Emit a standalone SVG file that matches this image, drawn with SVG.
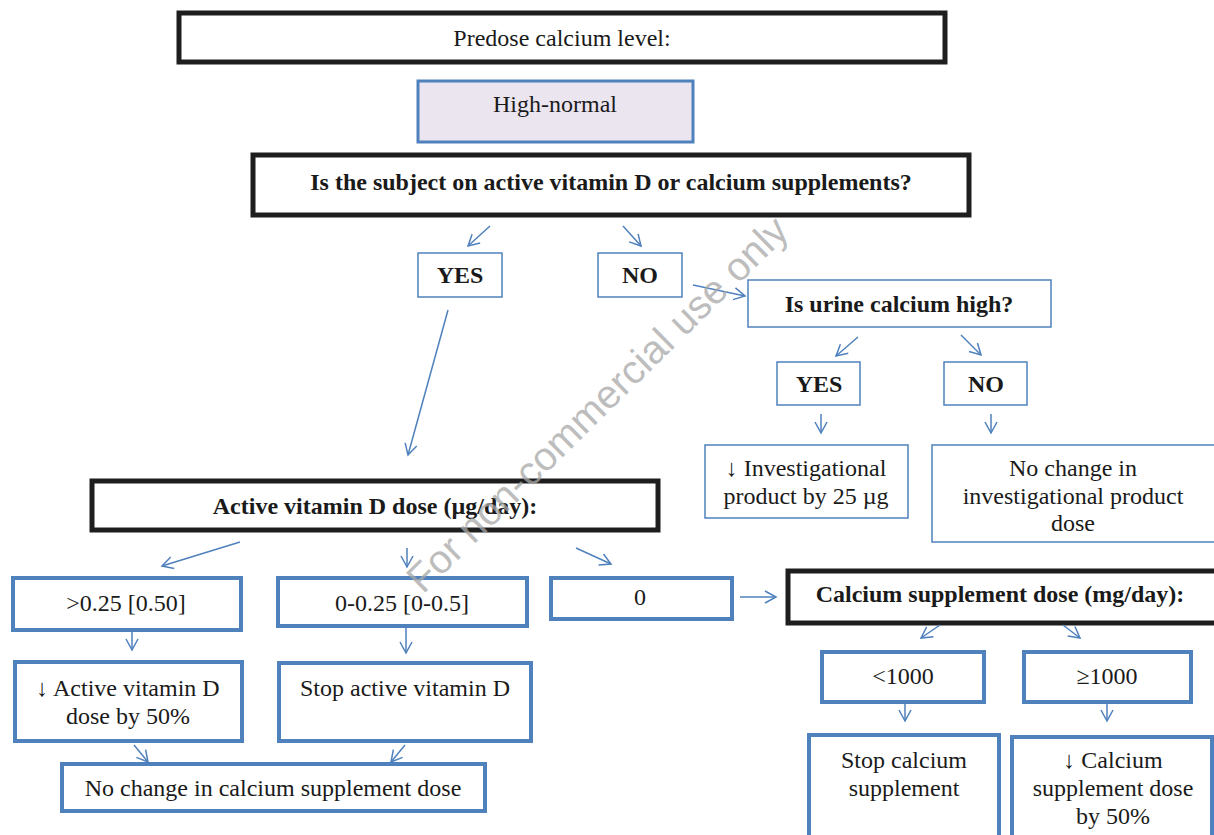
<svg xmlns="http://www.w3.org/2000/svg" width="1214" height="835" viewBox="0 0 1214 835">
<style>
.blk{fill:#fff;stroke:#1e1e1e;stroke-width:5}
.thin{fill:#fff;stroke:#4f81bd;stroke-width:1.5}
.thick{fill:#fff;stroke:#4f81bd;stroke-width:4}
.t{font-family:"Liberation Serif","Times New Roman",serif;font-size:24px;fill:#1a1a1a;text-anchor:middle}
.b{font-weight:bold}
.c line{stroke:#4f81bd;stroke-width:1.5;marker-end:url(#ah)}
.wm{font-family:"Liberation Sans",Arial,sans-serif;font-size:40px;fill:#a8a8a8;fill-opacity:0.75;text-anchor:middle}
</style>
<defs>
<marker id="ah" markerUnits="userSpaceOnUse" markerWidth="16" markerHeight="16" refX="12" refY="7" orient="auto">
<path d="M1,1 L12,7 L1,13" fill="none" stroke="#4f81bd" stroke-width="1.5"/>
</marker>
</defs>
<rect width="1214" height="835" fill="#fff"/>

<g id="n-predose"><rect class="blk" x="179" y="13" width="766" height="49"/><text class="t" x="562" y="46">Predose calcium level:</text></g>
<g id="n-highnormal"><rect x="418" y="81" width="275" height="61" fill="#ebe5f0" stroke="#4f81bd" stroke-width="3"/><text class="t" x="555" y="112">High-normal</text></g>
<g id="n-subject"><rect class="blk" x="253" y="155" width="716" height="60"/><text class="t b" x="611" y="190">Is the subject on active vitamin D or calcium supplements?</text></g>
<g id="n-yes1"><rect class="thin" x="418" y="253" width="84" height="44"/><text class="t b" x="460" y="283">YES</text></g>
<g id="n-no1"><rect class="thin" x="598" y="253" width="84" height="44"/><text class="t b" x="640" y="283">NO</text></g>
<g id="n-urine"><rect class="thin" x="748" y="280" width="303" height="47"/><text class="t b" x="899" y="312">Is urine calcium high?</text></g>
<g id="n-yes2"><rect class="thin" x="777" y="362" width="83" height="43"/><text class="t b" x="819" y="392">YES</text></g>
<g id="n-no2"><rect class="thin" x="944" y="362" width="83" height="43"/><text class="t b" x="986" y="392">NO</text></g>
<g id="n-invest"><rect class="thin" x="705" y="445" width="203" height="73"/><text class="t" x="806" y="476">↓ Investigational</text><text class="t" x="806" y="504">product by 25 µg</text></g>
<g id="n-nochange-ip"><rect class="thin" x="932" y="445" width="290" height="97"/><text class="t" x="1073" y="476">No change in</text><text class="t" x="1073" y="504">investigational product</text><text class="t" x="1073" y="531">dose</text></g>
<g id="n-avd"><rect class="blk" x="92" y="481" width="566" height="49"/><text class="t b" x="375" y="514">Active vitamin D dose (µg/day):</text></g>
<g id="n-gt025"><rect class="thick" x="13" y="578" width="228" height="52"/><text class="t" x="126" y="611">&gt;0.25 [0.50]</text></g>
<g id="n-0to025"><rect class="thick" x="278" y="578" width="249" height="48"/><text class="t" x="402" y="611">0-0.25 [0-0.5]</text></g>
<g id="n-zero"><rect class="thick" x="551" y="578" width="181" height="41"/><text class="t" x="640" y="605">0</text></g>
<g id="n-csd"><rect class="blk" x="788" y="571" width="430" height="52"/><text class="t b" x="1000" y="602">Calcium supplement dose (mg/day):</text></g>
<g id="n-reduce-avd"><rect class="thick" x="15" y="662" width="227" height="79"/><text class="t" x="128" y="696">↓ Active vitamin D</text><text class="t" x="128" y="724">dose by 50%</text></g>
<g id="n-stop-avd"><rect class="thick" x="279" y="663" width="252" height="78"/><text class="t" x="405" y="696">Stop active vitamin D</text></g>
<g id="n-nochange-cs"><rect class="thick" x="62" y="764" width="423" height="47"/><text class="t" x="273" y="796">No change in calcium supplement dose</text></g>
<g id="n-lt1000"><rect class="thick" x="822" y="652" width="162" height="50"/><text class="t" x="903" y="684">&lt;1000</text></g>
<g id="n-ge1000"><rect class="thick" x="1024" y="652" width="167" height="50"/><text class="t" x="1107" y="684">≥1000</text></g>
<g id="n-stop-cs"><rect class="thick" x="809" y="735" width="190" height="110"/><text class="t" x="904" y="768">Stop calcium</text><text class="t" x="904" y="796">supplement</text></g>
<g id="n-reduce-cs"><rect class="thick" x="1012" y="737" width="200" height="110"/><text class="t" x="1113" y="768">↓ Calcium</text><text class="t" x="1113" y="796">supplement dose</text><text class="t" x="1113" y="824">by 50%</text></g>

<g id="connectors" class="c">
<line x1="490" y1="226" x2="468" y2="246"/>
<line x1="623" y1="226" x2="641" y2="246"/>
<line x1="693" y1="285" x2="745" y2="296"/>
<line x1="448" y1="310" x2="408" y2="455"/>
<line x1="858" y1="337" x2="836" y2="356"/>
<line x1="961" y1="335" x2="981" y2="355"/>
<line x1="821" y1="414" x2="821" y2="433"/>
<line x1="991" y1="414" x2="991" y2="433"/>
<line x1="240" y1="542" x2="162" y2="566"/>
<line x1="407" y1="548" x2="407" y2="567"/>
<line x1="576" y1="548" x2="611" y2="564"/>
<line x1="740" y1="597" x2="776" y2="597"/>
<line x1="132" y1="632" x2="132" y2="650"/>
<line x1="406" y1="628" x2="406" y2="653"/>
<line x1="940" y1="625" x2="921" y2="638"/>
<line x1="1063" y1="625" x2="1080" y2="638"/>
<line x1="905" y1="704" x2="905" y2="721"/>
<line x1="1107" y1="704" x2="1107" y2="721"/>
<line x1="134" y1="745" x2="148" y2="762"/>
<line x1="405" y1="745" x2="391" y2="762"/>
</g>

<text class="wm" transform="translate(597,404) rotate(-44.5)" y="14">For non-commercial use only</text>
</svg>
